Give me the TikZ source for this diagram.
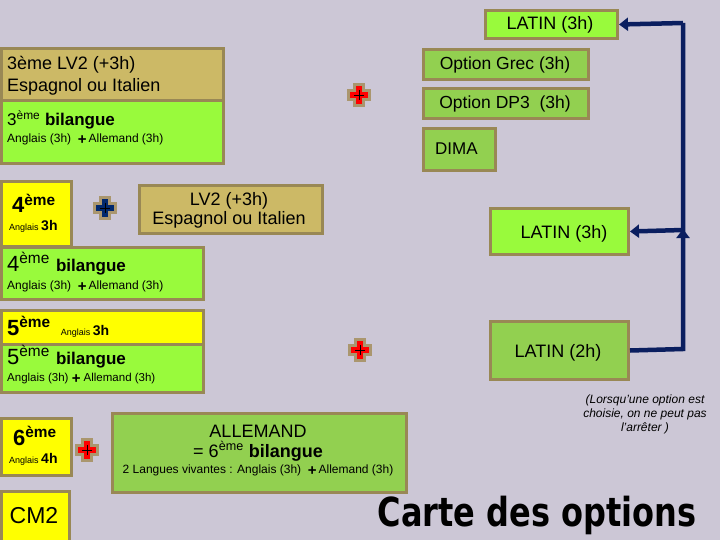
\documentclass[tikz,border=0pt]{standalone}
\usepackage{fontspec}
\setmainfont{Liberation Sans}
\newfontfamily\titlefont{DejaVu Sans}
\usetikzlibrary{arrows.meta}
\definecolor{bg}{RGB}{204,199,214}
\definecolor{lime}{RGB}{153,250,60}
\definecolor{midgreen}{RGB}{146,208,80}
\definecolor{tan}{RGB}{204,185,102}
\definecolor{yel}{RGB}{255,255,0}
\definecolor{bord}{RGB}{153,136,85}
\definecolor{crossbord}{RGB}{170,150,110}
\definecolor{navy}{RGB}{10,30,95}
\definecolor{crossblue}{RGB}{0,40,110}
\newcommand\myfs[1]{\fontsize{#1}{#1}\selectfont}
\newcommand\plusmark{\raisebox{-2pt}{\myfs{15}\bfseries +}}
\tikzset{
  box/.style={draw=bord,line width=3pt,anchor=north west,inner sep=0pt},
  txt/.style={inner sep=0pt,text=black},
  arr/.style={draw=navy,line width=4.5pt,-{Triangle[length=9pt,width=13pt]}},
  link/.style={draw=navy,line width=4.5pt,line join=miter},
  pics/plus/.style={code={
    \draw[line width=3.5pt,draw=crossbord,fill=#1,line join=miter]
      (-4.5,-10.5) -- (4.5,-10.5) -- (4.5,-4.5) -- (10.5,-4.5) -- (10.5,4.5) -- (4.5,4.5)
      -- (4.5,10.5) -- (-4.5,10.5) -- (-4.5,4.5) -- (-10.5,4.5) -- (-10.5,-4.5) -- (-4.5,-4.5) -- cycle;
    \draw[black,line width=0.5pt] (-5,0) -- (5,0) (0,-5) -- (0,5);
  }}
}
\begin{document}
\begin{tikzpicture}[x=1pt,y=-1pt]
\fill[bg] (0,0) rectangle (720,540);
\useasboundingbox (0,0) rectangle (720,540);

% ---- right column
\node[box,fill=lime,minimum width=132pt,minimum height=28pt] (latinA) at (484,9) {};
\node[txt,anchor=base] (tlatinA) at (550,30) {\myfs{18}LATIN (3h)};
\node[box,fill=midgreen,minimum width=165pt,minimum height=30pt] (grec) at (422,48) {};
\node[txt,anchor=base] (tgrec) at (505,70) {\myfs{17.5}Option Grec (3h)};
\node[box,fill=midgreen,minimum width=165pt,minimum height=30pt] (dp3) at (422,87) {};
\node[txt,anchor=base] (tdp3) at (505,109) {\myfs{17.5}Option DP3\ \ (3h)};
\node[box,fill=midgreen,minimum width=72pt,minimum height=42pt] (dima) at (422,127) {};
\node[txt,anchor=base west] (tdima) at (435,155) {\myfs{17}DIMA};
\node[box,fill=lime,minimum width=138pt,minimum height=46pt] (latinB) at (489,207) {};
\node[txt,anchor=base] (tlatinB) at (564,238) {\myfs{18}LATIN (3h)};
\node[box,fill=midgreen,minimum width=138pt,minimum height=58pt] (latinC) at (489,320) {};
\node[txt,anchor=base] (tlatinC) at (558,357) {\myfs{18}LATIN (2h)};

% ---- 3eme
\node[box,fill=tan,minimum width=222pt,minimum height=52pt] (lv3) at (0,47) {};
\node[txt,anchor=base west] (tlv3a) at (7,70) {\myfs{18}3ème LV2 (+3h)};
\node[txt,anchor=base west] (tlv3b) at (7,92) {\myfs{18}Espagnol ou Italien};
\node[box,fill=lime,minimum width=222pt,minimum height=63pt] (bil3) at (0,99) {};
\node[txt,anchor=base west] (tbil3a) at (7,126) {\myfs{17}3\textsuperscript{ème} \bfseries bilangue};
\node[txt,anchor=base west] (tbil3b) at (7,143) {\myfs{12}Anglais (3h)\ \ \plusmark\,Allemand (3h)};

% ---- 4eme
\node[box,fill=yel,minimum width=70pt,minimum height=65pt] (y4) at (0,180) {};
\node[txt,anchor=base west] (ty4a) at (12,213) {\bfseries\myfs{22}4\textsuperscript{ème}};
\node[txt,anchor=base west] (ty4b) at (9,230) {\myfs{9}Anglais \bfseries\myfs{14}3h};
\node[box,fill=tan,minimum width=183pt,minimum height=48pt] (lv4) at (138,184) {};
\node[txt,anchor=base] (tlv4a) at (229,206) {\myfs{18}LV2 (+3h)};
\node[txt,anchor=base] (tlv4b) at (229,225) {\myfs{18}Espagnol ou Italien};
\node[box,fill=lime,minimum width=202pt,minimum height=52pt] (bil4) at (0,246) {};
\node[txt,anchor=base west] (tbil4a) at (7,271) {\myfs{22}4\textsuperscript{ème} \bfseries\myfs{17}bilangue};
\node[txt,anchor=base west] (tbil4b) at (7,289) {\myfs{12}Anglais (3h)\ \ \plusmark\,Allemand (3h)};

% ---- 5eme
\node[box,fill=yel,minimum width=202pt,minimum height=34pt] (y5) at (0,309) {};
\node[txt,anchor=base west] (ty5) at (7,335) {\bfseries\myfs{22}5\textsuperscript{ème}\hspace{10pt}\mdseries\myfs{9}Anglais \bfseries\myfs{14}3h};
\node[box,fill=lime,minimum width=202pt,minimum height=48pt] (bil5) at (0,343) {};
\node[txt,anchor=base west] (tbil5a) at (7,364) {\myfs{22}5\textsuperscript{ème} \bfseries\myfs{17}bilangue};
\node[txt,anchor=base west] (tbil5b) at (7,381) {\myfs{11.5}Anglais (3h)\ \plusmark\ Allemand (3h)};

% ---- 6eme
\node[box,fill=yel,minimum width=70pt,minimum height=57pt] (y6) at (0,417) {};
\node[txt,anchor=base west] (ty6a) at (13,445) {\bfseries\myfs{22}6\textsuperscript{ème}};
\node[txt,anchor=base west] (ty6b) at (9,463) {\myfs{9}Anglais \bfseries\myfs{14}4h};
\node[box,fill=midgreen,minimum width=294pt,minimum height=79pt] (alld) at (111,412) {};
\node[txt,anchor=base] (talla) at (258,437) {\myfs{18}ALLEMAND};
\node[txt,anchor=base] (tallb) at (258,457) {\myfs{18}= 6\textsuperscript{ème} \bfseries bilangue};
\node[txt,anchor=base] (tallc) at (258,473) {\myfs{12}2 Langues vivantes : Anglais (3h)\ \ \plusmark\,Allemand (3h)};

% ---- CM2
\node[box,fill=yel,minimum width=68pt,minimum height=56pt] (cm2) at (0,490) {};
\node[txt,anchor=base] (tcm2) at (34,523) {\myfs{23}CM2};

% ---- crosses
\pic at (359,95) {plus=red};
\pic at (105,208) {plus=crossblue};
\pic at (360,350) {plus=red};
\pic at (87,450) {plus=red};

% ---- arrows
\coordinate (jA) at (683,23);
\coordinate (jB) at (683,230);
\coordinate (jC) at (683,349);
\coordinate (jUp) at (683,229);
\draw[link] (latinC.east) -- (jC) -- (jA);
\draw[arr] (jA) -- (latinA.east);
\draw[arr] (jB) -- (latinB.east);
\draw[arr] (jC) -- (jUp);

% ---- note
\node[txt,align=center,font=\itshape\myfs{12}] (note) at (645,414) {(Lorsqu'une option est\\[2pt]choisie, on ne peut pas\\[2pt]l'arrêter )};

% ---- title
\node[txt,anchor=base] (title) at (537,526) {\scalebox{0.8}[1]{\titlefont\bfseries\myfs{40}Carte des options}};
\end{tikzpicture}
\end{document}
